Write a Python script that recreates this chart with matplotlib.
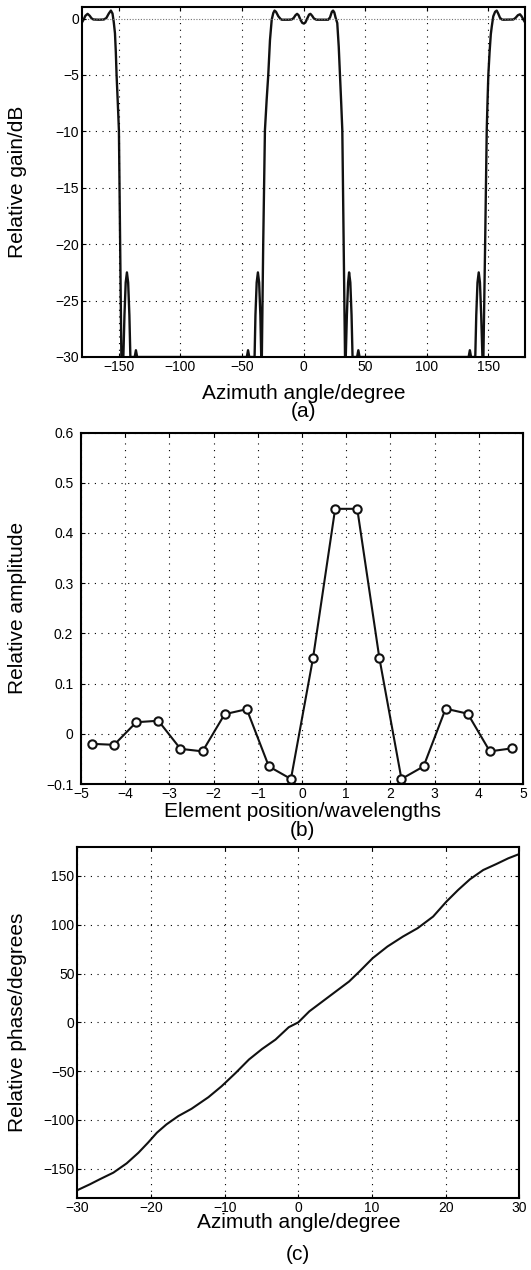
import matplotlib
matplotlib.use("Agg")
import matplotlib.pyplot as plt
from matplotlib import font_manager

plt.rcParams["font.family"] = ["Liberation Sans", "DejaVu Sans"]
plt.rcParams["axes.unicode_minus"] = True

# (a) relative gain pattern, clipped at -30 dB
gain_angle = [
    -180, -178.5, -177, -175.2, -173.5, -172, -170.5, -166, -162, -160, -158,
    -156.3, -155, -154, -153, -152.3, -151.7, -150.7, -149.8, -148.8, -147.8,
    -146.2, -145.3, -144.3, -143.3, -142.3, -141.3, -140.5,
    -137, -136, -135,
    -46, -45, -44,
    -39.7, -39, -38, -37, -36, -35, -34.3,
    -33.8, -32.7, -31.3, -29.9, -28.6, -27.2, -25.8, -24.5, -23.5, -22.3,
    -20.4, -18.5, -17.5, -12, -9.6, -8, -6.5, -5.2, -4, -2.5, -1, 0.2, 1.5,
    3, 4.5, 5.6, 7, 8.5, 10.5, 20, 21.5, 23, 24, 25, 26, 27.4, 28.6, 29.6,
    30.6, 31.5, 32.6, 33.7,
    34.3, 35.2, 36.2, 37, 38, 39, 39.8,
    43.5, 44.5, 45.5,
    134, 135, 136,
    139.4, 140.2, 141.2, 142.2, 143.2, 144.2, 145.2,
    146, 147.4, 148.7, 149.3, 150, 151, 152, 152.8, 154, 155.5, 156.8, 158,
    159.5, 161, 162.2, 170.3, 172, 174, 175.7, 177, 178.5, 180,
]
gain_db = [
    -0.38, -0.1, 0.25, 0.42, 0.25, 0.02, -0.08, -0.1, -0.08, 0.05, 0.45,
    0.71, 0.45, -0.3, -1.3, -3, -5, -7.5, -9.9, -20, -30,
    -30, -26.3, -23.4, -22.5, -23.4, -26.3, -30,
    -30, -29.4, -30,
    -30, -29.4, -30,
    -30, -26.3, -23.4, -22.5, -23.4, -26.3, -30,
    -30, -20, -9.9, -7.2, -5, -1.9, -0.1, 0.5, 0.71, 0.6,
    0.2, -0.05, -0.1, -0.1, -0.08, 0.05, 0.3, 0.42, 0.3, -0.1, -0.38, -0.44, -0.35,
    0, 0.35, 0.42, 0.25, 0, -0.1, -0.1, 0.1, 0.6, 0.71, 0.55, 0.1, -0.4, -2.5, -5,
    -7.5, -9.9, -20, -30,
    -30, -26.3, -23.4, -22.5, -23.4, -26.3, -30,
    -30, -29.4, -30,
    -30, -29.4, -30,
    -30, -26.3, -23.4, -22.5, -23.4, -26.3, -30,
    -30, -20, -9.9, -7.5, -5, -3, -1.4, -0.7, 0.2, 0.6, 0.71, 0.45,
    0.06, -0.08, -0.1, -0.08, 0.05, 0.3, 0.38, 0.2, -0.1, -0.38,
]

# (b) element amplitudes
element_pos = [-4.75, -4.25, -3.75, -3.25, -2.75, -2.25, -1.75, -1.25, -0.75, -0.25,
               0.25, 0.75, 1.25, 1.75, 2.25, 2.75, 3.25, 3.75, 4.25, 4.75]
element_amp = [-0.02, -0.022, 0.023, 0.026, -0.03, -0.035, 0.039, 0.049, -0.065, -0.09,
               0.151, 0.448, 0.448, 0.151, -0.09, -0.065, 0.05, 0.04, -0.035, -0.029]

# (c) relative phase vs azimuth
phase_angle = [-30, -28.3, -27, -25.1, -23.3, -21.7, -20.4, -19.2, -17.9, -16.3,
               -14.5, -12.2, -10.4, -8.5, -6.7, -4.9, -3.1, -1.3, 0, 1.5, 3.3,
               5.1, 6.9, 8.3, 10.1, 12.1, 14.2, 16.2, 18.3, 20.1, 21.7, 23.3,
               25.1, 26.9, 28.5, 30]
phase_deg = [-172, -166, -161, -154, -144.5, -133.6, -123.3, -113.1, -104.6, -96.1,
             -88.6, -76.7, -65.4, -51.8, -38.1, -27.2, -17.7, -5, 0, 11.3, 21.5,
             31.7, 41.9, 52.1, 65.8, 77.7, 87.9, 96.5, 108.4, 123.7, 135.7, 146.6,
             156.1, 162.3, 168.1, 172.5]

W, H = 531, 1270
fig = plt.figure(figsize=(W / 100, H / 100), dpi=100)

# narrow face for tick numbers if it is installed
installed = {f.name for f in font_manager.fontManager.ttflist}
if "Liberation Sans Narrow" in installed:
    tick_family = ["Liberation Sans Narrow", "DejaVu Sans"]
    tick_fs = 11
else:
    tick_family = ["Liberation Sans", "DejaVu Sans"]
    tick_fs = 10
label_fs = 15
grid_kw = dict(color="k", linestyle=(0, (1, 5)), linewidth=0.8)


def style(ax, ypad=2):
    for sp in ax.spines.values():
        sp.set_linewidth(1.5)
    ax.tick_params(direction="in", length=3, width=0.8, top=True, right=True,
                   labelsize=tick_fs, pad=2)
    ax.tick_params(axis="y", pad=ypad)
    for lab in ax.get_xticklabels() + ax.get_yticklabels():
        lab.set_family(tick_family)
    ax.grid(True, **grid_kw)
    ax.set_axisbelow(False)


def fmt(v):
    return ("%g" % v).replace("-", "\u2212")


# panel (a)
ax1 = fig.add_axes([81.7 / W, 1 - 357 / H, 443.6 / W, 349.7 / H])
ax1.plot(gain_angle, gain_db, color="#111111", lw=1.7)
ax1.set_xlim(-180, 180)
ax1.set_ylim(-30, 1)
xt = [-150, -100, -50, 0, 50, 100, 150]
yt = [-30, -25, -20, -15, -10, -5, 0]
ax1.set_xticks(xt)
ax1.set_xticklabels([fmt(v) for v in xt])
ax1.set_yticks(yt)
ax1.set_yticklabels([fmt(v) for v in yt])
style(ax1)
ax1.get_ygridlines()[-1].set_linestyle((0, (1, 1.5)))
ax1.get_ygridlines()[-1].set_color("0.45")

# panel (b)
ax2 = fig.add_axes([81 / W, 1 - 784 / H, 442 / W, 351.5 / H])
ax2.plot(element_pos, element_amp, color="#111111", lw=1.5, marker="o",
         markersize=6, markerfacecolor="white", markeredgecolor="#111111",
         markeredgewidth=1.5)
ax2.set_xlim(-5, 5)
ax2.set_ylim(-0.1, 0.6)
xt = list(range(-5, 6))
yt = [-0.1, 0, 0.1, 0.2, 0.3, 0.4, 0.5, 0.6]
ax2.set_xticks(xt)
ax2.set_xticklabels([fmt(v) for v in xt])
ax2.set_yticks(yt)
ax2.set_yticklabels([fmt(v) for v in yt])
style(ax2, ypad=5.5)

# panel (c)
ax3 = fig.add_axes([77.3 / W, 1 - 1198 / H, 442 / W, 351.3 / H])
ax3.plot(phase_angle, phase_deg, color="#111111", lw=1.5)
ax3.set_xlim(-30, 30)
ax3.set_ylim(-180, 180)
xt = [-30, -20, -10, 0, 10, 20, 30]
yt = [-150, -100, -50, 0, 50, 100, 150]
ax3.set_xticks(xt)
ax3.set_xticklabels([fmt(v) for v in xt])
ax3.set_yticks(yt)
ax3.set_yticklabels([fmt(v) for v in yt])
style(ax3)

# labels
fig.text(18 / W, 1 - 182 / H, "Relative gain/dB", rotation=90, ha="center",
         va="center", fontsize=label_fs)
fig.text(18 / W, 1 - 608 / H, "Relative amplitude", rotation=90, ha="center",
         va="center", fontsize=label_fs)
fig.text(18 / W, 1 - 1022 / H, "Relative phase/degrees", rotation=90,
         ha="center", va="center", fontsize=label_fs)

fig.text(303.5 / W, 1 - 399 / H, "Azimuth angle/degree", ha="center",
         va="baseline", fontsize=label_fs)
fig.text(303.5 / W, 1 - 411.5 / H, "(a)", ha="center", va="center",
         fontsize=label_fs)
fig.text(302 / W, 1 - 817 / H, "Element position/wavelengths", ha="center",
         va="baseline", fontsize=label_fs)
fig.text(302 / W, 1 - 831 / H, "(b)", ha="center", va="center",
         fontsize=label_fs)
fig.text(298.3 / W, 1 - 1228 / H, "Azimuth angle/degree", ha="center",
         va="baseline", fontsize=label_fs)
fig.text(298.3 / W, 1 - 1255 / H, "(c)", ha="center", va="center",
         fontsize=label_fs)

fig.savefig("out.png", dpi=100)
